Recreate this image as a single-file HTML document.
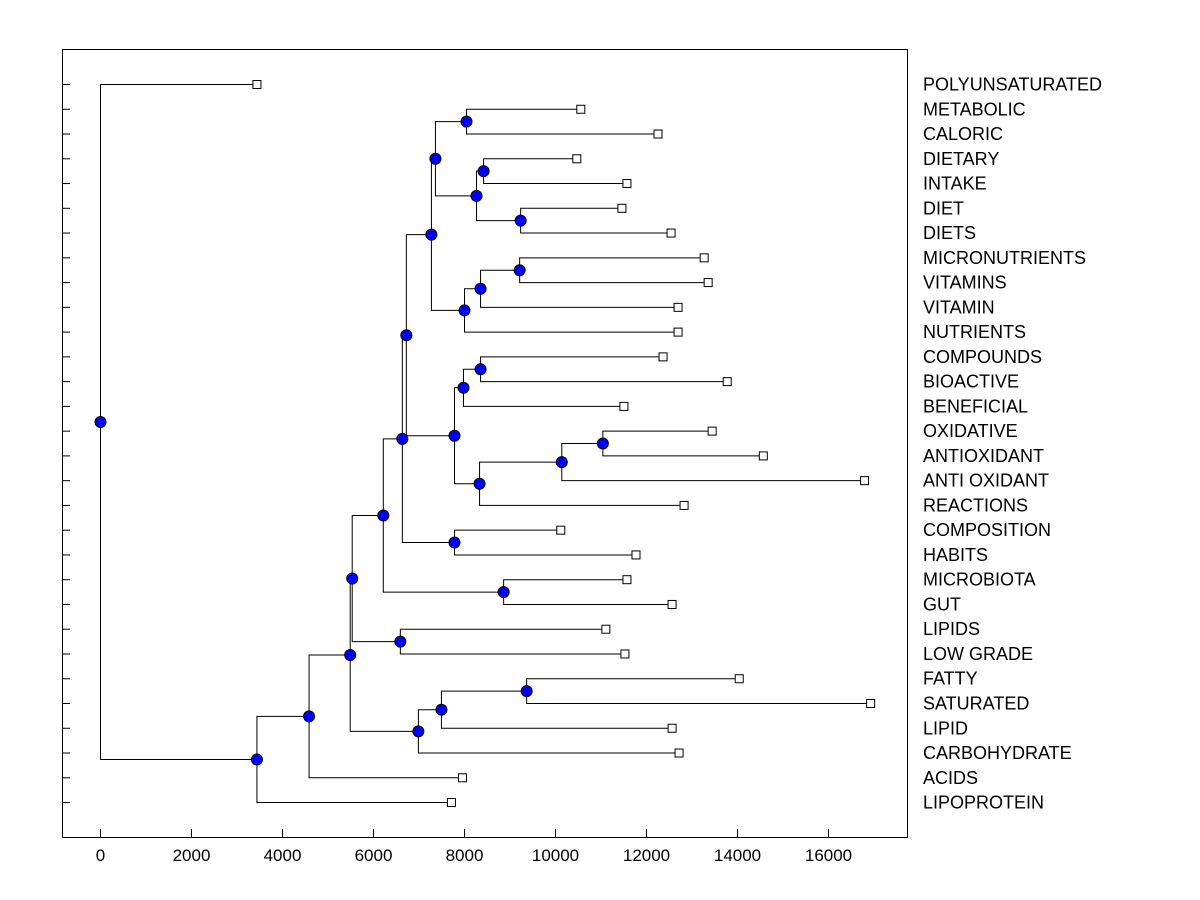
<!DOCTYPE html>
<html><head><meta charset="utf-8"><style>
body{margin:0;background:#fff;}
svg{display:block;font-family:"Liberation Sans",Arial,sans-serif;}
</style></head><body>
<svg id="c" width="1200" height="900"></svg>
<script>
const labels=["POLYUNSATURATED","METABOLIC","CALORIC","DIETARY","INTAKE","DIET","DIETS","MICRONUTRIENTS","VITAMINS","VITAMIN","NUTRIENTS","COMPOUNDS","BIOACTIVE","BENEFICIAL","OXIDATIVE","ANTIOXIDANT","ANTI OXIDANT","REACTIONS","COMPOSITION","HABITS","MICROBIOTA","GUT","LIPIDS","LOW GRADE","FATTY","SATURATED","LIPID","CARBOHYDRATE","ACIDS","LIPOPROTEIN"];
const leafValues=[3438,10556,12253,10468,11570,11460,12540,13267,13355,12694,12694,12364,13774,11504,13443,14567,16793,12826,10116,11769,11570,12562,11107,11526,14038,16926,12562,12716,7956,7713];
// merges: [childA, childB, height]; leaves are "L<i>", nodes "N<i>"
const merges=[
["L1","L2",8044],["L3","L4",8419],["L5","L6",9234],["N1","N2",8264],["N0","N3",7361],
["L7","L8",9212],["N5","L9",8353],["N6","L10",8000],["N4","N7",7273],
["L11","L12",8353],["N9","L13",7978],["L14","L15",11041],["N11","L16",10138],["N12","L17",8331],["N10","N13",7780],
["L18","L19",7780],["N8","N14",6722],["N16","N15",6634],["L20","L21",8860],["N17","N18",6215],
["L22","L23",6590],["N19","N20",5532],["L24","L25",9366],["N22","L26",7493],["N23","L27",6986],
["N21","N24",5488],["N25","L28",4584],["N26","L29",3438],["L0","N27",0]];
const xTicks=[0,2000,4000,6000,8000,10000,12000,14000,16000];

const NS="http://www.w3.org/2000/svg";
const svg=document.getElementById('c');
const X=v=>100+v*0.0455;
const Y=i=>84+i*24.76;
function mk(t,a,p){const e=document.createElementNS(NS,t);for(const k in a)e.setAttribute(k,a[k]);(p||svg).appendChild(e);return e;}
const frame=mk('rect',{x:62.5,y:49.5,width:845,height:788,fill:'none',stroke:'#000','stroke-width':1});


const gl=mk('g',{});


const pos={};
labels.forEach((l,i)=>{pos['L'+i]={x:X(leafValues[i]),y:Y(i)};});
merges.forEach((m,i)=>{
  const a=pos[m[0]],b=pos[m[1]],x=X(m[2]);
  const p=mk('path',{d:`M${a.x},${a.y+0.5}H${x+0.5}V${b.y+0.5}H${b.x}`,fill:'none',stroke:'#000','stroke-width':1},gl);
  
  
  pos['N'+i]={x:x,y:(a.y+b.y)/2};
});
labels.forEach((l,i)=>{
  const y=Y(i);
  const t=mk('line',{x1:62,x2:70,y1:y+0.5,y2:y+0.5,stroke:'#000'});
  
  
  const s=mk('rect',{x:X(leafValues[i])-3.5,y:y-3.5,width:8,height:8,fill:'#fff',stroke:'#000'});
  
  
  const tx=mk('text',{x:923,y:y+6.5,'font-size':18,fill:'#000'});
  tx.textContent=l;
  
  
});
merges.forEach((m,i)=>{
  const n=pos['N'+i];
  const c=mk('circle',{cx:n.x+0.5,cy:n.y+0.5,r:5.5,fill:'#0000ff',stroke:'#000'});
  
  
});
xTicks.forEach(v=>{
  const x=X(v);
  const l=mk('line',{x1:x+0.5,x2:x+0.5,y1:829,y2:837,stroke:'#000'});
  
  
  const t=mk('text',{x:x+0.5,y:861,'font-size':17,'text-anchor':'middle',fill:'#000'});
  t.textContent=v;
  
  
});
</script>
</body></html>
